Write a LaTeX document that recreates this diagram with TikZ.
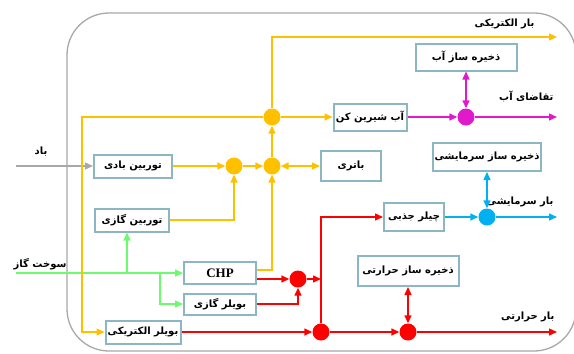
\documentclass[tikz,border=0pt]{standalone}
\usepackage{fontspec}
\setmainfont{Liberation Serif}
\newfontfamily\fa[Script=Arabic]{DejaVu Sans}
\TeXXeTstate=1
\usetikzlibrary{positioning, arrows.meta, calc}
\definecolor{elecyellow}{RGB}{255,192,0}
\definecolor{heatred}{RGB}{255,0,0}
\definecolor{gasgreen}{RGB}{110,250,110}
\definecolor{coolblue}{RGB}{0,176,240}
\definecolor{watermag}{RGB}{225,25,205}
\definecolor{windgray}{RGB}{168,168,168}
\definecolor{boxedge}{RGB}{140,182,196}
\newcommand{\rtltext}[1]{\beginR #1\endR}

\begin{document}
\begin{tikzpicture}[x=1pt, y=-1pt,
    unit/.style={rectangle, draw=boxedge, line width=2pt, fill=white, inner sep=2pt, font=\fa\bfseries\fontsize{10}{12}\selectfont},
    hub/.style={circle, inner sep=0pt, minimum size=17pt},
    flow/.style={-{Triangle[length=8pt, width=7pt]}, line width=1.4pt},
    both/.style={{Triangle[length=8pt, width=7pt]}-{Triangle[length=8pt, width=7pt]}, line width=1.4pt},
    tag/.style={font=\fa\bfseries\fontsize{10}{12}\selectfont}
]
\useasboundingbox (0,0) rectangle (574,354);

% Frame
\draw[windgray, line width=1.3pt, rounded corners=42pt] (67,13) rectangle (576,351);

% Units
\node[unit, minimum width=78pt, minimum height=23pt] (wind) at (133,166) {\rtltext{توربین بادی}};
\node[unit, minimum width=74pt, minimum height=23pt] (gasturb) at (132,220) {\rtltext{توربین گازی}};
\node[unit, minimum width=72pt, minimum height=22pt, font=\bfseries\fontsize{13}{14}\selectfont] (chp) at (220,273) {CHP};
\node[unit, minimum width=72pt, minimum height=21pt] (gasboil) at (220,304) {\rtltext{بویلر گازی}};
\node[unit, minimum width=75pt, minimum height=23pt] (elboil) at (143,332) {\rtltext{بویلر الکتریکی}};
\node[unit, minimum width=73pt, minimum height=27pt] (desal) at (370,117) {\rtltext{آب شیرین کن}};
\node[unit, minimum width=60pt, minimum height=30pt] (battery) at (351,166) {\rtltext{باتری}};
\node[unit, minimum width=101pt, minimum height=27pt] (waterst) at (466,57) {\rtltext{ذخیره ساز آب}};
\node[unit, minimum width=103pt, minimum height=28pt] (coolst) at (487,157) {\rtltext{ذخیره ساز سرمایشی}};
\node[unit, minimum width=60pt, minimum height=28pt] (chiller) at (414,217) {\rtltext{چیلر جذبی}};
\node[unit, minimum width=101pt, minimum height=30pt] (heatst) at (408,271) {\rtltext{ذخیره ساز حرارتی}};

% Hubs
\node[hub, fill=elecyellow] (y1) at (272,117) {};
\node[hub, fill=elecyellow] (y2) at (234,166) {};
\node[hub, fill=elecyellow] (y3) at (272,166) {};
\node[hub, fill=watermag] (m1) at (466,117) {};
\node[hub, fill=coolblue] (b1) at (487,217) {};
\node[hub, fill=heatred] (r1) at (298,279) {};
\node[hub, fill=heatred] (r2) at (321,332) {};
\node[hub, fill=heatred] (r3) at (408,332) {};

% Inputs, outputs and bends
\coordinate (windin) at (16,166);
\coordinate (gasin) at (16,273);
\coordinate (gsplit1) at (127,273);
\coordinate (gsplit2) at (160,273);
\coordinate (ybend) at (82,117);
\coordinate (elecout) at (557,37);
\coordinate (waterout) at (557,117);
\coordinate (coolout) at (557,217);
\coordinate (heatout) at (557,332);

% Labels
\node[tag] (windtag) at (41,152) {\rtltext{باد}};
\node[tag] (gastag) at (40,264) {\rtltext{سوخت گاز}};
\node[tag, anchor=east] (electag) at (538,24) {\rtltext{بار الکتریکی}};
\node[tag, anchor=east] (watertag) at (557,96) {\rtltext{تقاضای آب}};
\node[tag, anchor=east] (cooltag) at (557,202) {\rtltext{بار سرمایشی}};
\node[tag, anchor=east] (heattag) at (558,317) {\rtltext{بار حرارتی}};

% Wind and gas
\draw[flow, windgray] (windin) -- (wind);
\draw[flow, gasgreen] (gasin) -- (chp);
\draw[flow, gasgreen] (gsplit1) -- (gsplit1 |- gasturb.south);
\draw[flow, gasgreen] (gsplit2) |- (gasboil);

% Electricity
\draw[flow, elecyellow] (wind) -- (y2);
\draw[flow, elecyellow] (y2) -- (y3);
\draw[flow, elecyellow] (gasturb) -| (y2);
\draw[flow, elecyellow] ([yshift=3pt]chp.east) -| (y3);
\draw[flow, elecyellow] (y3) -- (y1);
\draw[both, elecyellow] (y3) -- (battery);
\draw[flow, elecyellow] (y1) -- (desal);
\draw[flow, elecyellow] (y1) |- (elecout);
\draw[flow, elecyellow] (y1) -- (ybend) |- (elboil);

% Water
\draw[flow, watermag] (desal) -- (m1);
\draw[flow, watermag] (m1) -- (waterout);
\draw[both, watermag] (m1) -- (waterst);

% Cooling
\draw[flow, coolblue] (chiller) -- (b1);
\draw[flow, coolblue] (b1) -- (coolout);
\draw[both, coolblue] (b1) -- (coolst);

% Heat
\draw[flow, heatred] ([yshift=-6pt]chp.east) -- (r1);
\draw[flow, heatred] (gasboil) -| (r1);
\draw[flow, heatred] (r1) -- (r1 -| r2);
\draw[flow, heatred] (r2) |- (chiller);
\draw[flow, heatred] (elboil) -- (r2);
\draw[flow, heatred] (r2) -- (r3);
\draw[flow, heatred] (r3) -- (heatout);
\draw[both, heatred] (r3) -- (heatst);

\end{tikzpicture}
\end{document}
